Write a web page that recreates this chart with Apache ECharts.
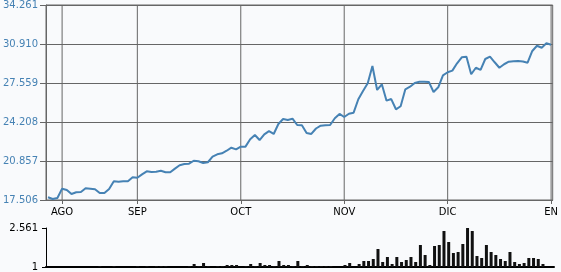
<!DOCTYPE html>
<html>
<head>
<meta charset="utf-8">
<script src="https://cdn.jsdelivr.net/npm/echarts@6/dist/echarts.min.js"></script>
<style>
html,body{margin:0;padding:0;background:#f9fafc;}
#chart{width:561px;height:272px;}
</style>
</head>
<body>
<div id="chart"></div>
<script>
// Month labels and the trading-day index where each month starts
const monthLabels = ['AGO', 'SEP', 'OCT', 'NOV', 'DIC', 'EN'];
const monthStartIndex = [3, 19, 41, 63, 85, 107];

// Price axis tick labels
const priceTicks = [17.506, 20.857, 24.208, 27.559, 30.910, 34.261];
// Volume axis tick labels
const volumeTicks = [1, 2.561];

// Daily closing price (one value per trading day)
const price = [
  17.74, 17.59, 17.68, 18.48, 18.37, 18.02, 18.17, 18.19, 18.51, 18.48,
  18.43, 18.11, 18.11, 18.45, 19.11, 19.08, 19.11, 19.11, 19.46, 19.42,
  19.71, 19.97, 19.91, 19.94, 20.02, 19.89, 19.89, 20.20, 20.49, 20.60,
  20.63, 20.88, 20.83, 20.69, 20.75, 21.23, 21.43, 21.52, 21.74, 22.00,
  21.86, 22.09, 22.09, 22.72, 23.09, 22.66, 23.15, 23.43, 23.18, 24.04,
  24.47, 24.38, 24.49, 23.95, 23.92, 23.26, 23.18, 23.65, 23.89, 23.92,
  23.95, 24.53, 24.90, 24.64, 24.92, 25.01, 26.16, 26.87, 27.53, 29.02,
  26.96, 27.45, 26.04, 26.18, 25.30, 25.56, 27.02, 27.24, 27.56, 27.67,
  27.67, 27.65, 26.79, 27.19, 28.22, 28.48, 28.62, 29.25, 29.77, 29.82,
  28.31, 28.87, 28.68, 29.62, 29.82, 29.34, 28.87, 29.17, 29.39, 29.42,
  29.45, 29.41, 29.30, 30.31, 30.76, 30.59, 30.97, 30.85
];

// Daily volume (one value per trading day)
const volume = [
  1, 1, 1, 1, 1, 1, 1, 1, 1, 1,
  1, 1.04, 1, 1, 1.04, 1, 1, 1, 1, 1.04,
  1, 1.04, 1, 1.04, 1.04, 1.04, 1, 1, 1, 1,
  1.04, 1.12, 1.04, 1.16, 1.04, 1, 1.04, 1.04, 1.08, 1.08,
  1.08, 1, 1.04, 1.12, 1.04, 1.16, 1.08, 1.08, 1.04, 1.24,
  1.08, 1.08, 1.04, 1.24, 1.04, 1.08, 1.04, 1.04, 1.04, 1.04,
  1.04, 1, 1, 1.08, 1.16, 1, 1.12, 1.24, 1.24, 1.32,
  1.72, 1.20, 1.40, 1.12, 1.40, 1.20, 1.28, 1.40, 1.20, 1.88,
  1.48, 1.08, 1.84, 1.88, 2.44, 2.00, 1.56, 1.60, 1.92, 2.56,
  2.44, 1.44, 1.36, 1.88, 1.60, 1.48, 1.32, 1.24, 1.60, 1.20,
  1.12, 1.16, 1.36, 1.36, 1.32, 1.12, 1, 1
];

const chart = echarts.init(document.getElementById('chart'), null, {renderer: 'canvas'});
const FONT = 'DejaVu Sans';
const GRID = '#666666';
const xMin = -0.424, xMax = 107.34;
const yMin = priceTicks[0], yMax = priceTicks[priceTicks.length - 1];

// vertical month gridlines as thin line series spanning the price axis
const monthGridSeries = monthStartIndex.map(i => ({
  type: 'line', xAxisIndex: 0, yAxisIndex: 0, silent: true,
  data: [[i, yMin], [i, yMax]],
  symbol: 'none', showSymbol: false,
  lineStyle: {color: GRID, width: 1},
  z: 1
}));

chart.setOption({
  animation: false,
  backgroundColor: '#f9fafc',
  textStyle: {fontFamily: FONT},
  grid: [
    {left: 46, top: 5, width: 508, height: 195, show: true, borderColor: GRID, borderWidth: 1, backgroundColor: 'transparent'},
    {left: 46, top: 228, width: 508, height: 39}
  ],
  xAxis: [
    {
      gridIndex: 0, type: 'value', min: xMin, max: xMax,
      axisLine: {show: true, onZero: false, lineStyle: {color: GRID, width: 1}},
      axisTick: {show: true, length: 4, customValues: monthStartIndex, lineStyle: {color: GRID}},
      axisLabel: {
        customValues: monthStartIndex, margin: 7, color: '#000', fontSize: 10, fontFamily: FONT,
        formatter: v => monthLabels[monthStartIndex.indexOf(Math.round(v))] || ''
      },
      splitLine: {show: false}
    },
    {
      gridIndex: 1, type: 'value', min: xMin, max: xMax,
      axisLine: {show: true, onZero: false, lineStyle: {color: '#000', width: 2}},
      axisTick: {show: false}, axisLabel: {show: false}, splitLine: {show: false}
    }
  ],
  yAxis: [
    {
      gridIndex: 0, type: 'value', min: yMin, max: yMax,
      axisLine: {show: true, onZero: false, lineStyle: {color: GRID, width: 1}},
      axisTick: {show: true, length: 6, customValues: priceTicks, lineStyle: {color: GRID}},
      axisLabel: {
        customValues: priceTicks, margin: 8, color: '#4682b4', fontSize: 10, fontFamily: FONT,
        formatter: v => v.toFixed(3)
      },
      splitLine: {show: true, lineStyle: {color: GRID, width: 1}}
    },
    {
      gridIndex: 1, type: 'value', min: volumeTicks[0], max: volumeTicks[1],
      axisLine: {show: true, onZero: false, lineStyle: {color: '#000', width: 1}},
      axisTick: {show: true, length: 4, customValues: volumeTicks, lineStyle: {color: '#000'}},
      axisLabel: {
        customValues: volumeTicks, margin: 8, color: '#000', fontSize: 10, fontFamily: FONT,
        formatter: v => (v === 1 ? '1' : v.toFixed(3))
      },
      splitLine: {show: false}
    }
  ],
  series: monthGridSeries.concat([
    {
      type: 'line', xAxisIndex: 0, yAxisIndex: 0,
      data: price.map((v, i) => [i, v]),
      showSymbol: false, symbol: 'none',
      lineStyle: {color: '#4682b4', width: 2},
      z: 5
    },
    {
      type: 'bar', xAxisIndex: 1, yAxisIndex: 1,
      data: volume.map((v, i) => [i, v]),
      barWidth: 3,
      itemStyle: {color: '#111111'}
    }
  ])
});
</script>
</body>
</html>
